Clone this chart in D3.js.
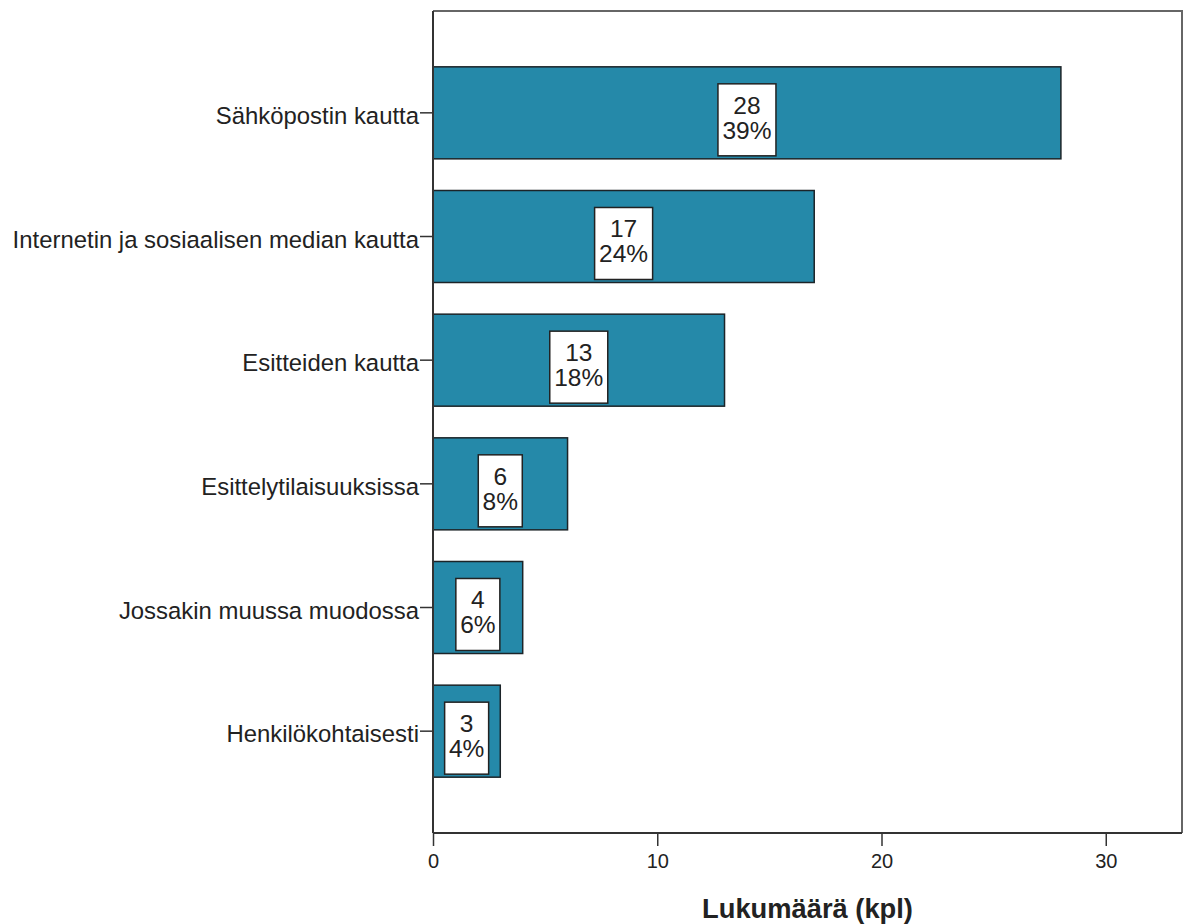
<!DOCTYPE html>
<html>
<head>
<meta charset="utf-8">
<script src="https://cdn.jsdelivr.net/npm/d3@7"></script>
<style>
  body { margin: 0; background: #fff; }
  svg { display: block; }
  text { font-family: "Liberation Sans", Arial, sans-serif; fill: #222; }
</style>
</head>
<body>
<svg id="chart" width="1189" height="924"></svg>
<script>
// Channels through which information was received (count and share)
const categories = [
  "Sähköpostin kautta",
  "Internetin ja sosiaalisen median kautta",
  "Esitteiden kautta",
  "Esittelytilaisuuksissa",
  "Jossakin muussa muodossa",
  "Henkilökohtaisesti"
];
const counts = [28, 17, 13, 6, 4, 3];
const percents = ["39%", "24%", "18%", "8%", "6%", "4%"];
const xTicks = [0, 10, 20, 30];
const xTitle = "Lukumäärä (kpl)";

const svg = d3.select("#chart");
const frame = { left: 433, right: 1182, top: 11, bottom: 833 };
const font = "'Liberation Sans', Arial, sans-serif";

const x = d3.scaleLinear().domain([0, 33.4]).range([frame.left, frame.right]);
const y = d3.scaleBand().domain(categories).range([51, 793]).paddingInner(0.256).paddingOuter(0.128);

// plot frame (top and right sides)
svg.append("path")
  .attr("d", `M${frame.left},${frame.top}H${frame.right}V${frame.bottom}`)
  .attr("fill", "none").attr("stroke", "#666").attr("stroke-width", 2);

// bars
const rows = categories.map((c, i) => ({ c, v: counts[i], p: percents[i] }));
svg.append("g").selectAll("rect").data(rows).join("rect")
  .attr("x", x(0))
  .attr("y", d => y(d.c))
  .attr("width", d => x(d.v) - x(0))
  .attr("height", y.bandwidth())
  .attr("fill", "#2589a9")
  .attr("stroke", "#1c2428")
  .attr("stroke-width", 1.5);

// value labels: white box centred at half of the bar
const lbl = svg.append("g").selectAll("g").data(rows).join("g")
  .attr("transform", d => `translate(${x(d.v / 2)},${y(d.c) + 17})`);
lbl.append("rect").attr("class", "box");
lbl.append("text").attr("class", "t1").attr("text-anchor", "middle")
  .attr("y", 30).attr("font-size", 24.5).text(d => d.v);
lbl.append("text").attr("class", "t2").attr("text-anchor", "middle")
  .attr("y", 55).attr("font-size", 24.5).text(d => d.p);
lbl.each(function () {
  const g = d3.select(this);
  const w = Math.max(g.select(".t1").node().getComputedTextLength(),
                     g.select(".t2").node().getComputedTextLength());
  const bw = Math.round(w + 9);
  g.select(".box")
    .attr("x", -bw / 2).attr("y", 0).attr("width", bw).attr("height", 72)
    .attr("fill", "#fff").attr("stroke", "#222").attr("stroke-width", 1.5);
});

// y axis
const yAxis = svg.append("g").attr("transform", `translate(${frame.left},0)`)
  .call(d3.axisLeft(y).tickSize(13).tickPadding(1));
yAxis.select(".domain").attr("d", `M0,${frame.top}V${frame.bottom}`)
  .attr("stroke", "#333").attr("stroke-width", 2);
yAxis.selectAll(".tick line").attr("stroke", "#333").attr("stroke-width", 1.5);
yAxis.selectAll(".tick text").attr("font-size", 23.9).attr("fill", "#222")
  .attr("dy", "0.46em").style("font-family", font);

// x axis
const xAxis = svg.append("g").attr("transform", `translate(0,${frame.bottom})`)
  .call(d3.axisBottom(x).tickValues(xTicks).tickSize(13).tickPadding(0).tickFormat(d3.format("d")));
xAxis.select(".domain").attr("d", `M${frame.left},0H${frame.right}`)
  .attr("stroke", "#333").attr("stroke-width", 2);
xAxis.selectAll(".tick line").attr("stroke", "#333").attr("stroke-width", 1.5);
xAxis.selectAll(".tick text").attr("font-size", 20).attr("fill", "#222")
  .attr("y", 35).attr("dy", 0).style("font-family", font);

// x axis title
svg.append("text")
  .attr("x", 807.5).attr("y", 918)
  .attr("text-anchor", "middle")
  .attr("font-size", 27.3).attr("font-weight", "bold")
  .text(xTitle);
</script>
</body>
</html>
